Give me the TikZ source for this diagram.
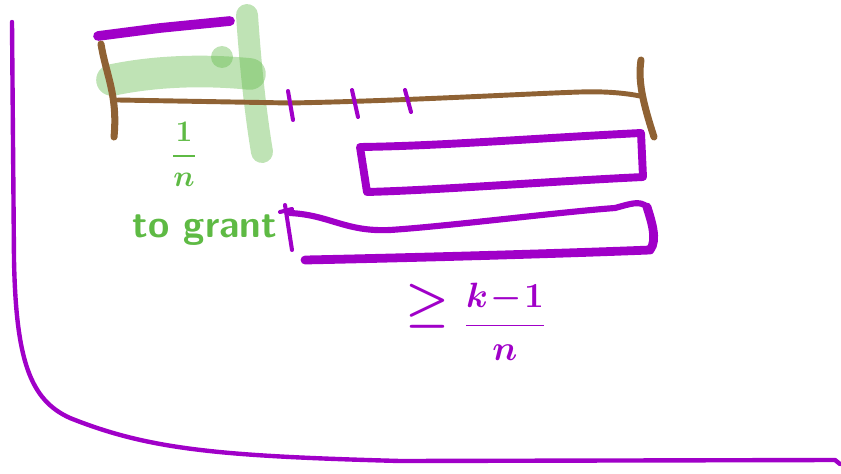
\documentclass[tikz,border=0pt]{standalone}
\usepackage{fix-cm}
\usepackage{amsmath,amssymb}
\usepackage{xcolor}
\usepackage{tikz}
\usetikzlibrary{positioning}

\definecolor{inkpurple}{RGB}{160,0,200}
\definecolor{inkbrown}{RGB}{143,98,52}
\definecolor{inkgreen}{RGB}{94,186,68}
\definecolor{hlgreen}{RGB}{95,185,70}

\begin{document}
\begin{tikzpicture}[x=0.02cm,y=-0.02cm,
  pen/.style={draw=inkpurple,line width=#1,line cap=round,line join=round},
  pen/.default=4.5pt,
  rule/.style={draw=inkbrown,line width=#1,line cap=round,line join=round},
  rule/.default=2.8pt,
  marker/.style={draw=hlgreen,draw opacity=0.4,line width=#1,line cap=round,line join=round},
  greennote/.style={text=inkgreen,inner sep=0pt,font=\fontsize{22}{26}\selectfont\sffamily\bfseries},
  purplenote/.style={text=inkpurple,inner sep=0pt,font=\fontsize{20}{24}\selectfont\boldmath}
]
\useasboundingbox (0,0) rectangle (841,473);

% axes
\draw[pen=2.5pt] (12,22) -- (14,260) .. controls (16,360) and (30,400) .. (70,418)
  .. controls (150,450) and (220,456) .. (400,461) -- (835,460) -- (840,464);
\draw[pen=5.5pt] (98,36) -- (160,28) -- (230,21);

% highlighted part
\draw[marker=18pt] (112,80) .. controls (160,70) and (210,70) .. (250,74);
\fill[hlgreen,fill opacity=0.4] (222,57) circle (11);
\draw[marker=12.5pt] (247,15) .. controls (250,60) and (255,110) .. (262,152);

% interval
\draw[rule=4pt] (101,44) .. controls (106,75) and (118,95) .. (114,137);
\draw[rule] (118,100) -- (290,103) .. controls (400,101) and (520,94) .. (580,92)
  .. controls (610,91) and (630,94) .. (640,96);
\draw[rule=4pt] (641,60) .. controls (638,80) and (642,100) .. (654,137);

% ticks
\draw[pen=2.3pt] (288,91) -- (293,120);
\draw[pen=2.3pt] (352,90) -- (358,117);
\draw[pen=2.3pt] (405,90) -- (411,112);

% blocks
\draw[pen] (360,147) .. controls (440,146) and (540,138) .. (641,133)
  -- (643,177) .. controls (540,182) and (440,190) .. (367,192) -- cycle;
\draw[pen=2.3pt] (280,212) -- (292,209);
\draw[pen=2.3pt] (285,205) -- (292,250);
\draw[pen=3.5pt] (290,213) .. controls (330,215) and (345,232) .. (390,230)
  .. controls (450,226) and (560,212) .. (615,208) .. controls (630,204) and (640,200) .. (647,207);
\draw[pen=5pt] (647,207) .. controls (651,220) and (658,240) .. (650,250)
  .. controls (550,254) and (400,258) .. (305,260);

% labels
\node[greennote,font=\fontsize{17}{20}\selectfont\boldmath] (recip) at (184,154) {$\displaystyle\frac{1}{n}$};
\node[greennote,anchor=base] (grant) at (205,237) {to grant};
\node[purplenote,font=\fontsize{28}{32}\selectfont\boldmath] (geq) at (427,306) {$\geq$};
\node[purplenote] (bound) at (505,322) {$\displaystyle\frac{k\!-\!1}{n}$};
\end{tikzpicture}
\end{document}
